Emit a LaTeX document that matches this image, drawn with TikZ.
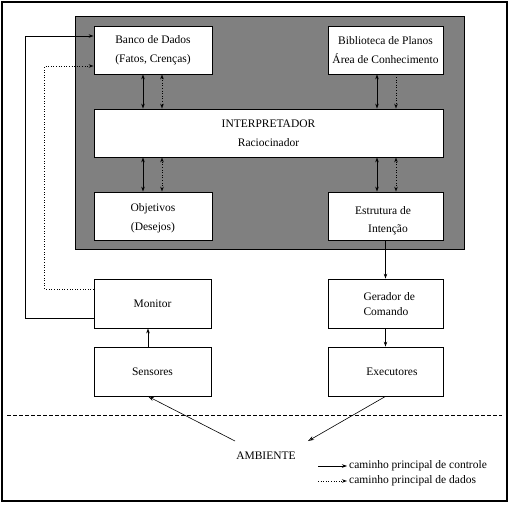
\documentclass[tikz,border=0pt]{standalone}
\usepackage{fontspec}
\setmainfont{Liberation Serif}
\usetikzlibrary{arrows.meta,calc}
\begin{document}
\begin{tikzpicture}[x=1pt,y=-1pt,
  every node/.style={font=\fontsize{11.5}{19}\selectfont},
  box/.style={draw=black,line width=0.8pt,fill=white,inner sep=0pt,align=center},
  ctl/.style={line width=0.8pt,-{Stealth[length=5pt,width=3.5pt]}},
  ctlb/.style={line width=0.8pt,{Stealth[length=5pt,width=3.5pt]}-{Stealth[length=5pt,width=3.5pt]}},
  dat/.style={line width=0.6pt,dotted,-{Stealth[length=5pt,width=3.5pt,open]}},
  datb/.style={line width=0.6pt,dotted,{Stealth[length=5pt,width=3.5pt,open]}-{Stealth[length=5pt,width=3.5pt,open]}},
  thin/.style={line width=0.6pt,-{Stealth[length=6pt,width=4pt,open]}}]
\useasboundingbox (0,0) rectangle (509,504);
\fill[white] (0,0) rectangle (509,504);
\node[draw=black,line width=1.6pt,minimum width=505pt,minimum height=499pt,inner sep=0pt] (frame) at (254.5,251.5) {};
\node[draw=black,line width=0.8pt,fill={rgb,255:red,128;green,128;blue,128},minimum width=389pt,minimum height=233pt,inner sep=0pt] (core) at (269.5,132.5) {};
\node[box,minimum width=118pt,minimum height=48pt] (banco) at (153,50) {Banco de Dados\\(Fatos, Crenças)};
\node[box,minimum width=115pt,minimum height=48pt] (bibl) at (385.5,50) {Biblioteca de Planos\\Área de Conhecimento};
\node[box,minimum width=349pt,minimum height=48pt] (interp) at (268.5,133) {INTERPRETADOR\\Raciocinador};
\node[box,minimum width=118pt,minimum height=48pt] (obj) at (153,216) {};
\node[font=\fontsize{11.5}{19}\selectfont,align=center] (objt) at (153,218) {Objetivos\\(Desejos)};
\node[box,minimum width=115pt,minimum height=48pt] (estr) at (385.5,216) {};
\node (estr1) at (383,211) {Estrutura de};
\node (estr2) at (388,230) {Intenção};
\node[box,minimum width=117pt,minimum height=49pt] (mon) at (152.5,303.5) {Monitor};
\node[box,minimum width=117pt,minimum height=49pt] (sens) at (152.5,371.5) {Sensores};
\node[box,minimum width=115pt,minimum height=49pt] (ger) at (385.5,303.5) {};
\node[align=left,font=\fontsize{11.5}{15}\selectfont,anchor=west] (gert) at (360,304) {Gerador de\\Comando};
\node[box,minimum width=115pt,minimum height=49pt] (exe) at (385.5,371.5) {};
\node (exet) at (392,372) {Executores};
% inner connectors
\draw[ctlb] ([xshift=-10pt]banco.south) -- ([xshift=-10pt]banco.south |- interp.north);
\draw[datb] ([xshift=9pt]banco.south) -- ([xshift=9pt]banco.south |- interp.north);
\draw[ctlb] ([xshift=-8.5pt]bibl.south) -- ([xshift=-8.5pt]bibl.south |- interp.north);
\draw[dat] ([xshift=10.5pt]bibl.south) -- ([xshift=10.5pt]bibl.south |- interp.north);
\draw[ctlb] ([xshift=-10pt]obj.north) -- ([xshift=-10pt]obj.north |- interp.south);
\draw[datb] ([xshift=9pt]obj.north) -- ([xshift=9pt]obj.north |- interp.south);
\draw[ctlb] ([xshift=-8.5pt]estr.north) -- ([xshift=-8.5pt]estr.north |- interp.south);
\draw[datb] ([xshift=10.5pt]estr.north) -- ([xshift=10.5pt]estr.north |- interp.south);
\draw[ctl] (estr.south) -- (ger.north);
\draw[ctl] (ger.south) -- (exe.north);
\draw[ctl,line width=1pt] ([xshift=-4.5pt]sens.north) -- ([xshift=-4.5pt]mon.south);
% feedback
\draw[ctl] ([yshift=-14.5pt]mon.west) -| ([xshift=-68pt,yshift=14pt]banco.west) -- ([yshift=14pt]banco.west);
\draw[dat] ([yshift=14.5pt]mon.west) -| ([xshift=-49pt,yshift=-16pt]banco.west) -- ([yshift=-16pt]banco.west);
% environment
\coordinate (dl) at (7,415);
\coordinate (dr) at (502,415);
\draw[line width=0.6pt,dash pattern=on 4pt off 2pt] (dl) -- (dr);
\node (amb) at (266,456) {AMBIENTE};
\coordinate (a1) at (235,441);
\coordinate (a2) at (308,441);
\draw[thin] (a1) -- ([xshift=-4.5pt]sens.south);
\draw[thin] (exe.south) -- (a2);
% legend
\coordinate (l1a) at (318,466);
\coordinate (l1b) at (347,466);
\coordinate (l2a) at (318,481);
\coordinate (l2b) at (347,481);
\draw[ctl,line width=0.6pt] (l1a) -- (l1b);
\draw[dat] (l2a) -- (l2b);
\node[anchor=west,inner sep=2pt] (lg1) at (l1b) {caminho principal de controle};
\node[anchor=west,inner sep=2pt] (lg2) at (l2b) {caminho principal de dados};
\end{tikzpicture}
\end{document}
